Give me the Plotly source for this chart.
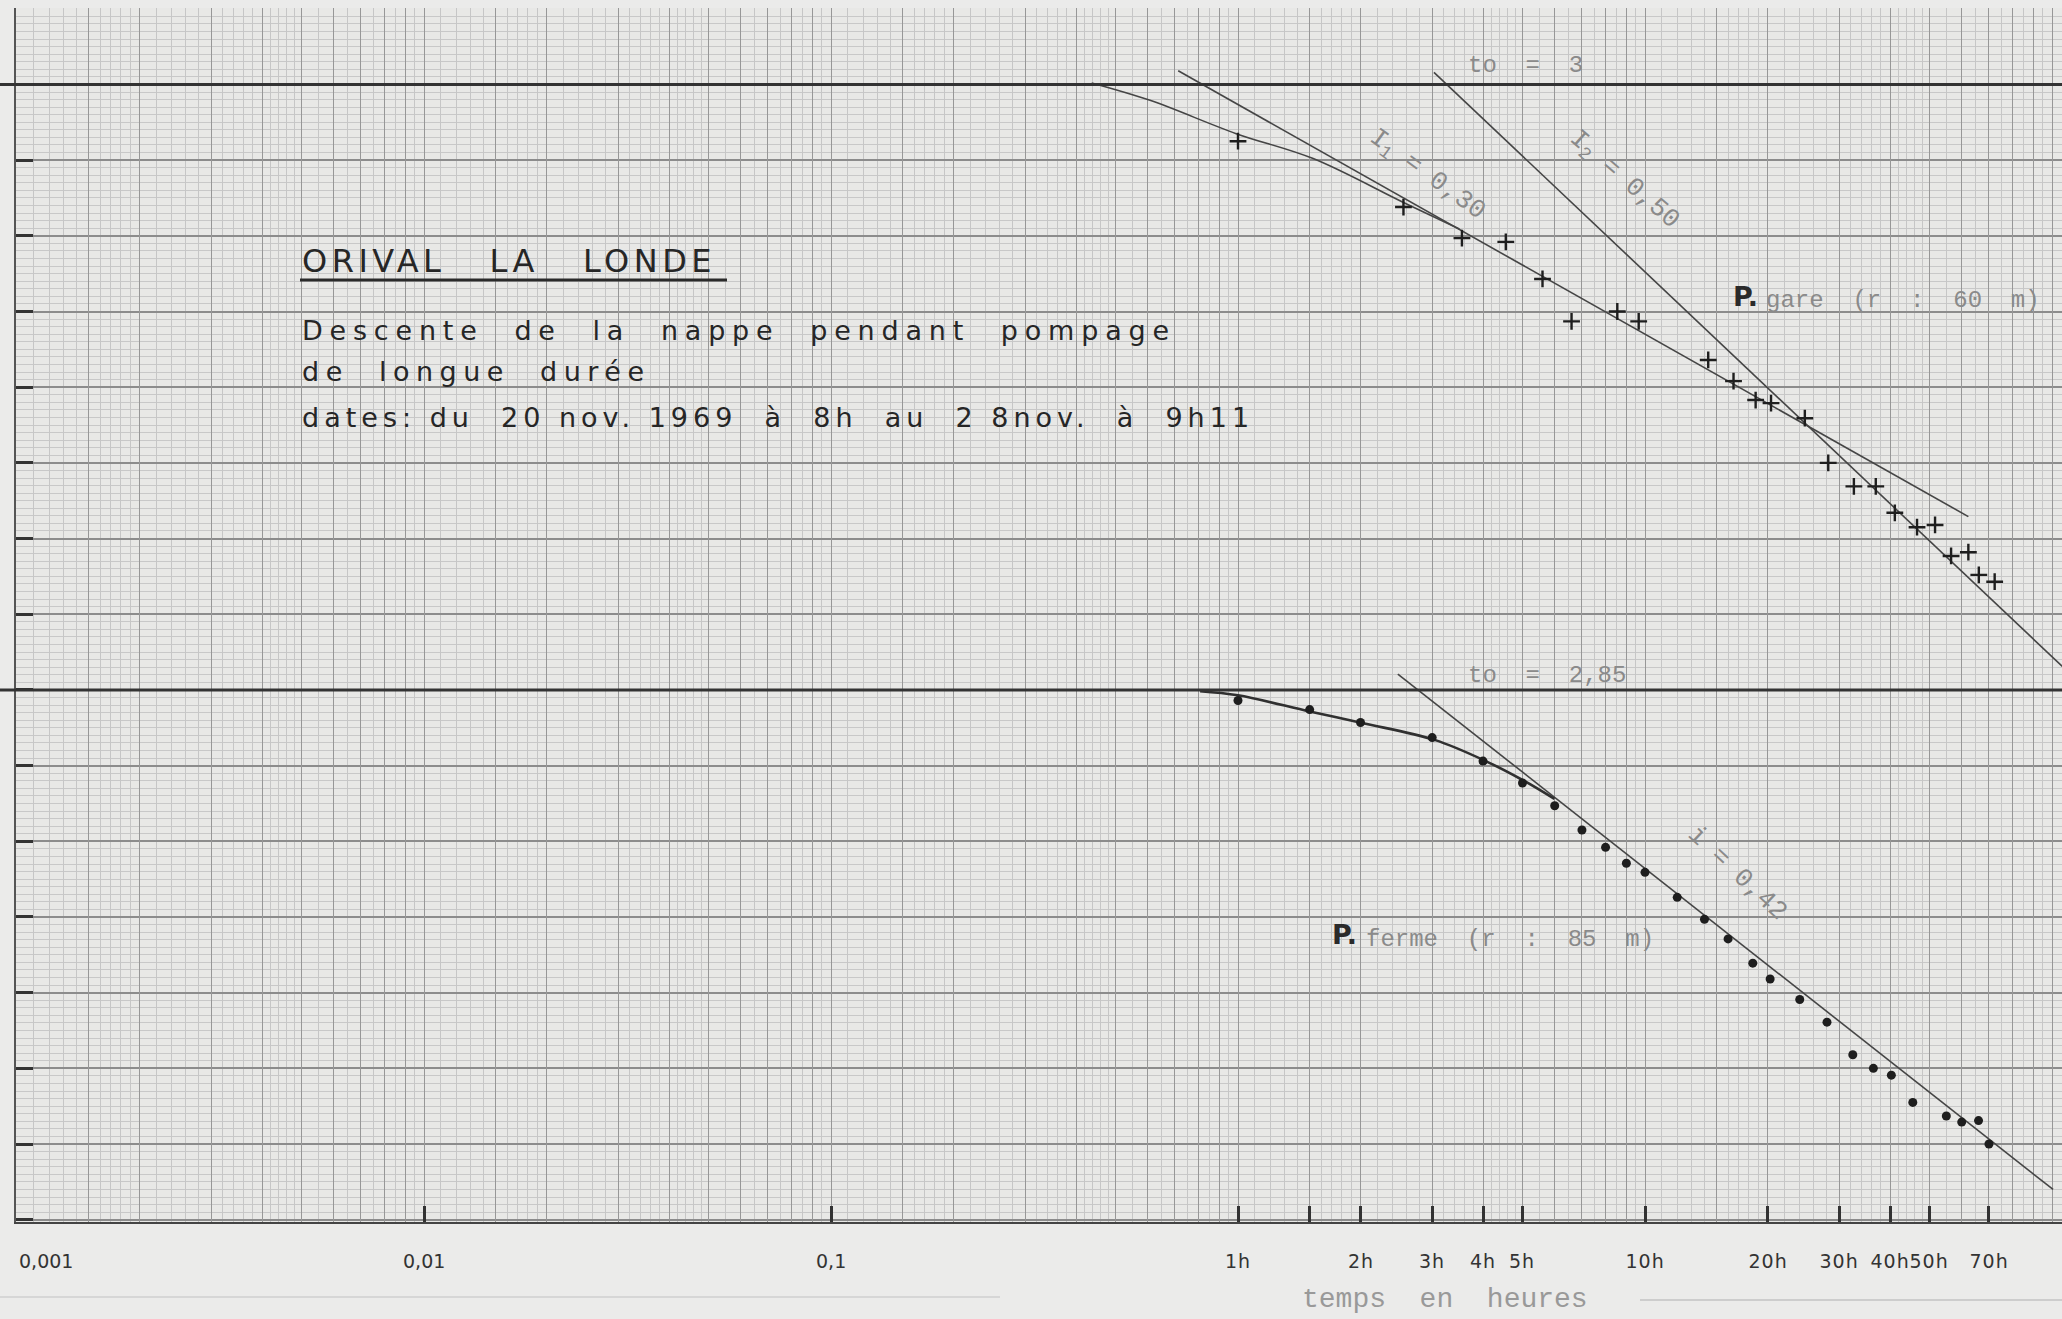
import numpy as np
import plotly.graph_objects as go

# ---------------- données ----------------
# P. gare (r : 60 m) : temps (h) et rabattement (m)
gare_t = [1.0, 2.55, 3.55, 4.55, 5.6, 6.6, 8.55, 9.65, 14.3, 16.5, 18.7, 20.4,
          24.7, 28.2, 32.6, 36.9, 41.1, 46.6, 51.6, 56.5, 62.3, 66.1, 72.3]
gare_s = [0.075, 0.162, 0.203, 0.208, 0.257, 0.313, 0.300, 0.313, 0.364, 0.392,
          0.417, 0.421, 0.441, 0.500, 0.531, 0.531, 0.566, 0.585, 0.582, 0.623,
          0.618, 0.648, 0.657]

# P. ferme (r : 85 m)
ferme_t = [1.0, 1.5, 2.0, 3.0, 4.0, 5.0, 6.0, 7.0, 8.0, 9.0, 10, 12, 14, 16,
           18.4, 20.3, 24, 28, 32.4, 36.4, 40.3, 45.5, 55, 60, 66, 70]
ferme_s = [0.014, 0.026, 0.043, 0.063, 0.094, 0.123, 0.153, 0.185, 0.208, 0.229,
           0.241, 0.274, 0.303, 0.329, 0.361, 0.382, 0.409, 0.439, 0.482, 0.500,
           0.509, 0.545, 0.563, 0.571, 0.569, 0.600]

# droites et courbes tracées à la main
gare_I1_t = [0.713, 62.3]
gare_I1_s = [-0.018, 0.571]
gare_I2_t = [3.03, 106.0]
gare_I2_s = [-0.016, 0.769]
gare_courbe_t = [0.437, 0.608, 0.99, 1.53, 2.55, 3.5]
gare_courbe_s = [-0.002, 0.021, 0.065, 0.098, 0.156, 0.191]

ferme_I_t = [2.47, 100.6]
ferme_I_s = [-0.021, 0.660]
ferme_courbe_t = [0.807, 1.0, 1.5, 2.03, 3.04, 4.06, 5.04, 5.99]
ferme_courbe_s = [0.0017, 0.0071, 0.0285, 0.044, 0.066, 0.094, 0.120, 0.144]

# origine de chaque piézomètre sur le papier (m)
gare_origine = 0.0
ferme_origine = 0.8

# axe des temps
tick_vals = [0.001, 0.01, 0.1, 1, 1.5, 2, 3, 4, 5, 10, 20, 30, 40, 50, 70]
label_vals = [0.001, 0.01, 0.1, 1, 2, 3, 4, 5, 10, 20, 30, 40, 50, 70]
label_txt = ["0,001", "0,01", "0,1", "1h", "2h", "3h", "4h", "5h", "10h",
             "20h", "30h", "40h", "50h", "70h"]

# ---------------- mise en page ----------------
W, H = 2062, 1319
ML, MR, MT, MB = 16, 0, 8, 97
PW, PH = W - ML - MR, H - MT - MB
DEC = 407.0
x0log = -3 - 1 / DEC
xrange = [x0log, x0log + PW / DEC]
yrange = [1.503, -0.101]

def px(x):
    return (x - ML) / PW

def py(y):
    return (H - MB - y) / PH

PAPER = "#e8e8e6"
INK = "#262626"
TYPE = "#8a8a8a"
MONO = "Liberation Mono"
SANS = "DejaVu Sans"

# graph paper lines
medium_x, fine_x = [], []
for k in range(-3, 3):
    b = 10.0 ** k
    for d in [1, 1.5, 2, 3, 4, 5, 6, 7, 8, 9]:
        medium_x.append(d * b)
    for d in list(np.arange(1.1, 2.0, 0.1)) + list(np.arange(2.2, 5.0, 0.2)) + list(np.arange(5.5, 10, 1.0)):
        if abs(d - 1.5) > 1e-6:
            fine_x.append(round(d, 2) * b)
major_y = [round(v, 2) for v in np.arange(0, 1.51, 0.1)]
fine_y = [round(v, 3) for v in np.arange(-0.1, 1.51, 0.01)]

fig = go.Figure()

# dummy trace to activate overlay axis holding the paper grid
fig.add_trace(go.Scatter(x=[1], y=[0], xaxis="x2", mode="markers",
                         marker=dict(size=0.1, opacity=0), hoverinfo="skip", showlegend=False))

line_style = dict(color="#454545", width=1.6)
fig.add_trace(go.Scatter(x=gare_I1_t, y=[gare_origine + s for s in gare_I1_s], mode="lines",
                         line=line_style, showlegend=False))
fig.add_trace(go.Scatter(x=gare_I2_t, y=[gare_origine + s for s in gare_I2_s], mode="lines",
                         line=line_style, showlegend=False))
fig.add_trace(go.Scatter(x=gare_courbe_t, y=[gare_origine + s for s in gare_courbe_s], mode="lines",
                         line=dict(color="#454545", width=1.6, shape="spline"), showlegend=False))
fig.add_trace(go.Scatter(x=ferme_I_t, y=[ferme_origine + s for s in ferme_I_s], mode="lines",
                         line=line_style, showlegend=False))
fig.add_trace(go.Scatter(x=ferme_courbe_t, y=[ferme_origine + s for s in ferme_courbe_s], mode="lines",
                         line=dict(color="#303030", width=2.6, shape="spline"), showlegend=False))

fig.add_trace(go.Scatter(x=gare_t, y=[gare_origine + s for s in gare_s], mode="markers",
                         marker=dict(symbol="cross-thin", size=12, line=dict(color="#1e1e1e", width=2.4)),
                         name="P. gare", showlegend=False))
fig.add_trace(go.Scatter(x=ferme_t, y=[ferme_origine + s for s in ferme_s], mode="markers",
                         marker=dict(symbol="circle", size=9, color="#1e1e1e"),
                         name="P. ferme", showlegend=False))

shapes = []
for o in [gare_origine, ferme_origine]:
    shapes.append(dict(type="line", xref="paper", yref="y", x0=-ML / PW, x1=1, y0=o, y1=o,
                       line=dict(color="#333", width=3), layer="above"))
# underline of title
shapes.append(dict(type="line", xref="paper", yref="paper", x0=px(300), x1=px(727), y0=py(280), y1=py(280),
                   line=dict(color="#2a2a2a", width=3)))
# faint scan lines at the bottom
shapes.append(dict(type="line", xref="paper", yref="paper", x0=px(1640), x1=px(2062), y0=py(1300), y1=py(1300),
                   line=dict(color="#cdcdcd", width=2)))
shapes.append(dict(type="line", xref="paper", yref="paper", x0=px(0), x1=px(1000), y0=py(1297), y1=py(1297),
                   line=dict(color="#d6d6d6", width=2)))

ann = []
def A(text, x, y, size, family=SANS, color=INK, xanchor="left", angle=0, xref="paper", yref="paper", weight="normal"):
    ann.append(dict(text=text, x=x, y=y, xref=xref, yref=yref, showarrow=False,
                    xanchor=xanchor, yanchor="middle", align="left" if xanchor == "left" else "center",
                    textangle=angle, font=dict(family=family, size=size, color=color, weight=weight)))

nb = "\u00a0"
A(f"ORIVAL{nb*3}LA{nb*3}LONDE", px(300), py(261), 32, color=INK)
A(f"Descente{nb*2}de{nb*2}la{nb*2}nappe{nb*2}pendant{nb*2}pompage", px(300), py(330), 27, color=INK)
A(f"de{nb*2}longue{nb*2}durée", px(300), py(371), 27, color=INK)
A(f"dates:{nb}du{nb*2}20{nb}nov.{nb}1969{nb*2}à{nb*2}8h{nb*2}au{nb*2}2{nb}8nov.{nb*2}à{nb*2}9h11",
  px(300), py(417), 27, color=INK)

for v, t in zip(label_vals, label_txt):
    A(t, np.log10(v), py(1261), 19, color="#333", xanchor="left" if v == 0.001 else "center", xref="x")

A(f"temps{nb*2}en{nb*2}heures", px(1300), py(1299), 28, family=MONO, color="#999")
A(f"to{nb*2}={nb*2}3", px(1466), py(66), 24, family=MONO, color=TYPE)
A(f"to{nb*2}={nb*2}2,85", px(1466), py(675), 24, family=MONO, color=TYPE)
A("P.", px(1731), py(296), 27, color="#2a2a2a", weight="bold")
A(f"gare{nb*2}(r{nb*2}:{nb*2}60{nb*2}m)", px(1764), py(300), 24, family=MONO, color=TYPE)
A("P.", px(1330), py(935), 27, color="#2a2a2a", weight="bold")
A(f"ferme{nb*2}(r{nb*2}:{nb*2}85{nb*2}m)", px(1364), py(939), 24, family=MONO, color=TYPE)
A(f"I<sub>1</sub>{nb}={nb}0,30", px(1427), py(175), 26, family=MONO, color=TYPE, xanchor="center", angle=36)
A(f"I<sub>2</sub>{nb}={nb}0,50", px(1624), py(180), 26, family=MONO, color=TYPE, xanchor="center", angle=41)
A(f"i{nb}={nb}0,42", px(1737), py(873), 26, family=MONO, color=TYPE, xanchor="center", angle=43)

fig.update_layout(
    width=W, height=H, autosize=False,
    margin=dict(l=ML, r=MR, t=MT, b=MB, pad=0),
    paper_bgcolor="#ebebea", plot_bgcolor=PAPER,
    showlegend=False,
    shapes=shapes, annotations=ann,
    xaxis=dict(type="log", range=xrange, showgrid=False, zeroline=False,
               tickmode="array", tickvals=tick_vals, showticklabels=False,
               ticks="inside", ticklen=16, tickwidth=2.5, tickcolor="#333",
               showline=True, linecolor="#444", linewidth=2),
    xaxis2=dict(type="log", range=xrange, overlaying="x", anchor="y", side="bottom",
                showgrid=True, gridcolor="#979797", gridwidth=1.3,
                tickmode="array", tickvals=medium_x, showticklabels=False, ticks="",
                minor=dict(tickmode="array", tickvals=fine_x, showgrid=True,
                           gridcolor="#c6c6c6", gridwidth=1, ticks=""),
                zeroline=False, showline=False),
    yaxis=dict(range=yrange, showgrid=True, gridcolor="#8c8c8c", gridwidth=1.6,
               tickmode="array", tickvals=major_y, showticklabels=False,
               ticks="inside", ticklen=17, tickwidth=3, tickcolor="#333",
               minor=dict(tickmode="array", tickvals=fine_y, showgrid=True,
                          gridcolor="#c8c8c8", gridwidth=1, ticks=""),
               zeroline=False, showline=True, linecolor="#555", linewidth=2),
)

post = """
var gd = document.getElementById('{plot_id}');
function sp(){
  gd.querySelectorAll('text.annotation-text').forEach(function(t){
    var s = t.textContent; var ls = null;
    if (s.indexOf('ORIVAL') === 0) ls = '4.5px';
    else if (s.indexOf('Descente') === 0) ls = '6.8px';
    else if (s.indexOf('longue') > 0) ls = '6.5px';
    else if (s.indexOf('dates') === 0) ls = '5px';
    else if (/^[0-9]+h$/.test(s)) ls = '1px';
    if (ls) t.style.letterSpacing = ls;
  });
}
sp();
gd.on('plotly_afterplot', sp);
"""

fig.write_html("out.html", include_plotlyjs=True, full_html=True,
               config=dict(displayModeBar=False, responsive=False), post_script=post)
